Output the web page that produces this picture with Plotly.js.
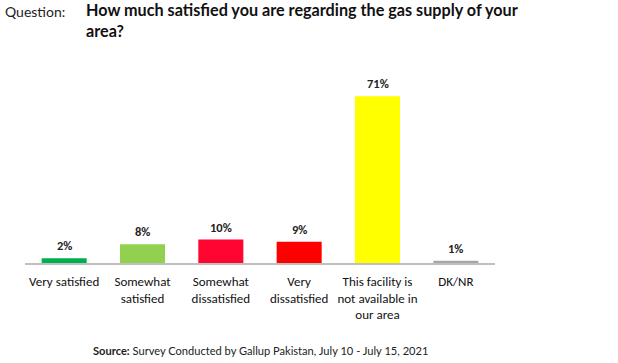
<!DOCTYPE html>
<html>
<head>
<meta charset="utf-8">
<script src="https://cdn.plot.ly/plotly-3.0.1.min.js"></script>
<style>html,body{margin:0;padding:0;background:#fff;}#chart{width:618px;height:363px;}</style>
</head>
<body>
<div id="chart"></div>
<script>
const categories = ["Very satisfied", "Somewhat satisfied", "Somewhat dissatisfied", "Very dissatisfied", "This facility is not available in our area", "DK/NR"];
const tickLabels = ["Very satisfied", "Somewhat<br>satisfied", "Somewhat<br>dissatisfied", "Very<br>dissatisfied", "This facility is<br>not available in<br>our area", "DK/NR"];
const values = [2, 8, 10, 9, 71, 1];
const colors = ["#00B050", "#92D050", "#FF0532", "#FF0000", "#FFFF00", "#A6A6A6"];
const questionLabel = "Question:";
const questionText = "How much satisfied you are regarding the gas supply of your<br>area?";
const sourceText = "<b>Source:</b> Survey Conducted by Gallup Pakistan, July 10 - July 15, 2021";

const labelFont = "Carlito, Lato, 'Liberation Sans', sans-serif";

const trace = {
  type: "bar",
  x: categories,
  y: values,
  marker: {color: colors, line: {width: 0}},
  hoverinfo: "skip"
};

const annotations = categories.map((c, i) => ({
  x: c, y: values[i], xref: "x", yref: "y",
  text: "<b>" + values[i] + "%</b>",
  showarrow: false, yanchor: "bottom", yshift: 3,
  font: {family: labelFont, size: 12.5, color: "#222"}
}));

annotations.push({
  xref: "paper", yref: "paper", x: -0.047, y: 1.0, yshift: 59,
  xanchor: "left", yanchor: "top",
  text: questionLabel,
  showarrow: false,
  font: {family: "Lato, sans-serif", size: 14, color: "#222"}
});
annotations.push({
  xref: "paper", yref: "paper", x: 0.1255, y: 1.305,
  xanchor: "left", yanchor: "top", align: "left",
  text: "<b>" + questionText + "</b>",
  showarrow: false,
  font: {family: "Lato, sans-serif", size: 16.2, color: "#111"}
});
annotations.push({
  xref: "paper", yref: "paper", x: 0.5, y: -0.4286,
  xanchor: "center", yanchor: "middle",
  text: sourceText,
  showarrow: false,
  font: {family: "Lato, sans-serif", size: 11.1, color: "#222"}
});

const layout = {
  width: 618, height: 363,
  margin: {l: 25, r: 123, t: 60, b: 100},
  paper_bgcolor: "#fff", plot_bgcolor: "#fff",
  showlegend: false,
  bargap: 0.425,
  xaxis: {
    tickvals: categories, ticktext: tickLabels,
    showline: true, linecolor: "#BFBFBF", linewidth: 2,
    ticks: "", showgrid: false, zeroline: false,
    ticklabelstandoff: 5,
    tickfont: {family: labelFont, size: 13, color: "#111"},
    fixedrange: true
  },
  yaxis: {
    range: [0, 86.4], visible: false, showgrid: false, zeroline: false, fixedrange: true
  },
  annotations: annotations
};

Plotly.newPlot("chart", [trace], layout, {staticPlot: true, displayModeBar: false});
</script>
</body>
</html>
